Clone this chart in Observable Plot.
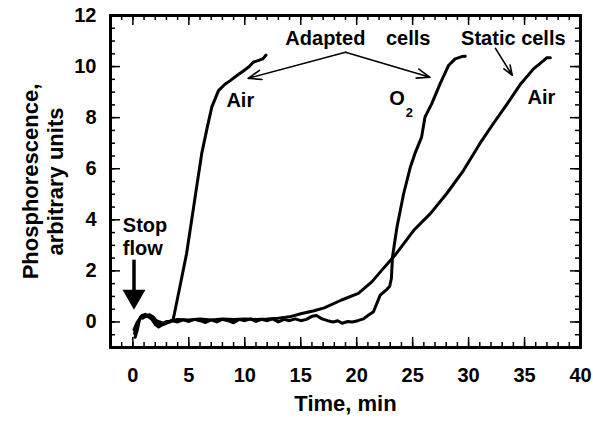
<!DOCTYPE html>
<html><head><meta charset="utf-8">
<script src="https://cdn.jsdelivr.net/npm/d3@7"></script>
<script src="https://cdn.jsdelivr.net/npm/@observablehq/plot@0.6"></script>
<style>body{margin:0;background:#fff;}</style>
</head><body><div id="chart"></div>
<script>
// Series: adapted cells in air
const adaptedAirT = [0.15,0.3,0.5,0.7,0.9,1.2,1.5,1.8,2.1,2.4,2.7,3.0,3.3,3.6,3.7,4.2,4.8,5.25,5.7,6.15,6.65,7.05,7.65,8.2,8.7,9.3,9.9,10.4,10.75,11.3,11.6,11.9];
const adaptedAirV = [-0.45,-0.2,0.05,0.2,0.15,0.25,0.28,0.2,0.05,0.0,-0.05,0.02,0.0,0.1,0.3,1.38,2.68,3.98,5.29,6.59,7.63,8.41,9.06,9.3,9.45,9.65,9.84,10.0,10.17,10.25,10.3,10.45];
// Series: adapted cells in O2
const adaptedO2T = [0.2,0.4,0.6,0.8,1.1,1.4,1.7,2.0,2.3,2.7,3.0,3.5,4,4.5,5,5.5,6,6.5,7,7.5,8,8.5,9,9.5,10,10.5,11,11.5,12,12.5,13,13.5,14,14.5,15,15.5,16.0,16.4,16.9,17.4,17.9,18.3,18.7,19.2,19.6,20.1,20.6,21.0,21.5,22.1,22.7,22.95,23.1,23.2,23.6,24.2,24.8,25.2,25.8,26.1,26.7,27.45,28.2,28.8,29.4,29.7];
const adaptedO2V = [-0.6,-0.3,0.1,0.25,0.3,0.2,0.1,-0.1,-0.2,-0.1,-0.05,0.05,0.0,0.08,0.02,0.1,0.05,-0.02,0.08,0.0,0.1,0.05,-0.03,0.1,0.05,0.12,0.02,0.1,0.05,0.12,0.0,0.1,0.05,0.12,0.05,0.1,0.22,0.25,0.12,0.05,0.0,0.05,-0.05,0.02,0.0,0.05,0.12,0.25,0.4,1.05,1.28,1.4,1.7,2.55,3.72,5.03,6.07,6.59,7.24,8.02,8.54,9.32,10.04,10.3,10.39,10.4];
// Series: static cells in air
const staticAirT = [0.1,0.4,0.7,1.0,1.4,1.8,2.2,2.6,3.0,3.5,4.0,5,6,7,8,9,10,11,12,13,14,15,16.2,17.1,18.65,20.15,21.35,22.25,23.4,25.1,26.6,28.05,29.55,31.0,32.2,33.45,34.65,35.8,36.7,37.0,37.3];
const staticAirV = [-0.3,0.0,0.15,0.2,0.22,0.1,-0.05,-0.1,0.0,0.05,0.1,0.08,0.12,0.08,0.12,0.1,0.12,0.1,0.12,0.15,0.2,0.32,0.44,0.55,0.86,1.12,1.57,2.03,2.6,3.59,4.25,5.03,5.94,6.98,7.76,8.54,9.32,9.91,10.23,10.35,10.35];

// Axis ticks
const xTickLabels = [0,5,10,15,20,25,30,35,40];
const xMinorTicks = d3.range(-1, 41, 1);
const yTickLabels = [0,2,4,6,8,10,12];
const yMinorTicks = d3.range(-1, 12.01, 0.5);

// Annotation texts (data coordinates)
const noteText = ["Adapted", "cells", "Static cells", "Air", "Air", "O"];
const noteX = [17.2, 24.6, 34.0, 9.6, 36.5, 23.6];
const noteY = [11.1, 11.1, 11.1, 8.68, 8.78, 8.76];
const subText = ["2"];
const subX = [24.7];
const subY = [8.2];
const stopText = ["Stop\nflow"];
const stopX = [-0.9];
const stopY = [3.35];
// Annotation arrows
const arrowX1 = [19.0, 19.0, 32.4];
const arrowY1 = [10.56, 10.56, 10.71];
const arrowX2 = [10.3, 26.55, 33.9];
const arrowY2 = [9.54, 9.58, 9.66];
const stopArrowX = [0.1];
const stopArrowTop = [2.42];
const stopArrowHead = [1.0];

const toRows = (T, V, name) => T.map((t, i) => ({t, v: V[i], name}));
const series = [
  ...toRows(adaptedAirT, adaptedAirV, "Adapted air"),
  ...toRows(adaptedO2T, adaptedO2V, "Adapted O2"),
  ...toRows(staticAirT, staticAirV, "Static air")
];
const notes = noteText.map((s, i) => ({s, x: noteX[i], y: noteY[i]}));
const subs = subText.map((s, i) => ({s, x: subX[i], y: subY[i]}));
const stops = stopText.map((s, i) => ({s, x: stopX[i], y: stopY[i]}));
const arrows = arrowX1.map((x1, i) => ({x1, y1: arrowY1[i], x2: arrowX2[i], y2: arrowY2[i]}));
const stopArrow = stopArrowX.map((x, i) => ({x, top: stopArrowTop[i], head: stopArrowHead[i]}));

const font = "'Liberation Sans', Arial, Helvetica, sans-serif";

const chart = Plot.plot({
  width: 593,
  height: 422,
  marginLeft: 110,
  marginRight: 13,
  marginTop: 15,
  marginBottom: 75,
  style: {fontFamily: font, fontWeight: "bold", fontSize: "19px"},
  x: {domain: [-2, 40], axis: null},
  y: {domain: [-1, 12], axis: null},
  marks: [
    // tick labels
    Plot.axisX(xTickLabels, {anchor: "bottom", tickSize: 0, tickPadding: 20, stroke: "none", label: null, fontSize: 20, fontWeight: "bold"}),
    Plot.axisY(yTickLabels, {anchor: "left", tickSize: 0, tickPadding: 14, stroke: "none", label: null, fontSize: 20, fontWeight: "bold"}),
    // data curves
    Plot.line(series, {x: "t", y: "v", z: "name", stroke: "black", strokeWidth: 3, strokeLinejoin: "round", strokeLinecap: "round"}),
    // annotations
    Plot.arrow(arrows, {x1: "x1", y1: "y1", x2: "x2", y2: "y2", stroke: "black", strokeWidth: 1.6, headLength: 13, headAngle: 40}),
    Plot.ruleX(stopArrow, {x: "x", y1: "top", y2: "head", stroke: "black", strokeWidth: 3.5}),
    Plot.dot(stopArrow, {x: "x", y: "head", symbol: "triangle", r: 8.5, rotate: 180, fill: "black", stroke: "none"}),
    Plot.text(notes, {x: "x", y: "y", text: "s", fontSize: 20, fontWeight: "bold", fill: "black"}),
    Plot.text(subs, {x: "x", y: "y", text: "s", fontSize: 13, fontWeight: "bold", fill: "black"}),
    Plot.text(stops, {x: "x", y: "y", text: "s", fontSize: 20, fontWeight: "bold", fill: "black", textAnchor: "start", lineHeight: 1.15}),
    // axis titles
    Plot.text(["Phosphorescence,\narbitrary units"], {frameAnchor: "left", textAnchor: "middle", dx: -68, rotate: -90, fontSize: 22, fontWeight: "bold", fill: "black", lineHeight: 1.15}),
    Plot.text(["Time, min"], {frameAnchor: "bottom", dy: 63, fontSize: 22, fontWeight: "bold", fill: "black"}),
    // inward ticks on all four sides (plot area is 470 x 332 px)
    Plot.tickX(xMinorTicks, {x: (d) => d, insetTop: 327, stroke: "black", strokeWidth: 1.5}),
    Plot.tickX(xTickLabels, {x: (d) => d, insetTop: 322, stroke: "black", strokeWidth: 1.5}),
    Plot.tickX(xMinorTicks, {x: (d) => d, insetBottom: 327, stroke: "black", strokeWidth: 1.5}),
    Plot.tickX(xTickLabels, {x: (d) => d, insetBottom: 322, stroke: "black", strokeWidth: 1.5}),
    Plot.tickY(yMinorTicks, {y: (d) => d, insetRight: 465, stroke: "black", strokeWidth: 1.5}),
    Plot.tickY(yTickLabels, {y: (d) => d, insetRight: 460, stroke: "black", strokeWidth: 1.5}),
    Plot.tickY(yMinorTicks, {y: (d) => d, insetLeft: 465, stroke: "black", strokeWidth: 1.5}),
    Plot.tickY(yTickLabels, {y: (d) => d, insetLeft: 460, stroke: "black", strokeWidth: 1.5}),
    Plot.frame({strokeWidth: 3, stroke: "black"})
  ]
});
document.getElementById("chart").appendChild(chart);
</script>
</body></html>
